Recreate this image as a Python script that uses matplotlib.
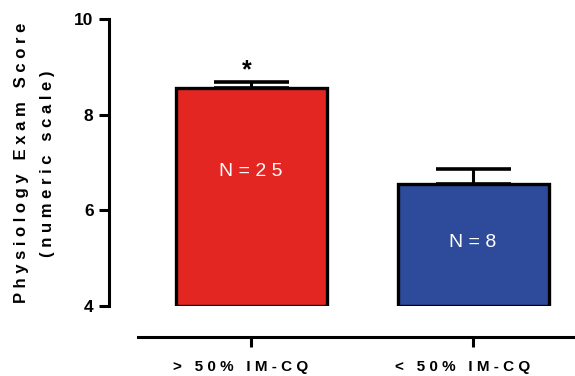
import numpy as np
import matplotlib.pyplot as plt
import matplotlib.transforms as mtransforms

plt.rcParams['font.family'] = ['Liberation Sans', 'DejaVu Sans']
plt.rcParams['font.weight'] = 'bold'

# data
groups = ['> 50% IM-CQ', '< 50% IM-CQ']
means = [8.55, 6.54]
sem = [0.14, 0.32]
n_labels = ['N=25', 'N=8']
n_pos = [6.81, 5.32]
bar_colors = ['#E42622', '#2D4B9A']


def spaced(s):
    # the original figure uses wide letter spacing
    return ' '.join(s)


fig = plt.figure(figsize=(5.75, 3.76), dpi=100)
ax = fig.add_axes([0.24, 0.186, 0.76, 0.764])

x = np.arange(len(groups))
ax.bar(x, np.array(means) - 4, bottom=4, width=0.68, color=bar_colors,
       edgecolor='black', linewidth=2.4, zorder=2)
ax.errorbar(x, means, yerr=[np.zeros(len(sem)), sem], fmt='none',
            ecolor='black', elinewidth=2.2, capsize=27, capthick=2.6, zorder=1)

for xi, lab, yp in zip(x, n_labels, n_pos):
    ax.text(xi, yp, spaced(lab), color='white', fontsize=14, fontweight='normal',
            ha='center', va='center', zorder=3)
ax.text(x[0] - 0.02, 8.93, '*', fontsize=18, fontweight='bold', ha='center', va='center')

ax.set_xlim(-0.509, 1.459)
ax.set_ylim(4, 10)
ax.set_yticks([4, 6, 8, 10])
ax.set_xticks(x)

ax.spines['top'].set_visible(False)
ax.spines['right'].set_visible(False)
ax.spines['left'].set_position(('outward', 21))
ax.spines['bottom'].set_position(('outward', 22))
ax.spines['left'].set_linewidth(2.2)
ax.spines['bottom'].set_linewidth(2.2)
ax.tick_params(width=2.2, length=7)
ax.tick_params(axis='x', pad=10, labelsize=11)
ax.tick_params(axis='y', labelsize=12.5, pad=4)
ax.set_xticklabels([spaced(g) for g in groups])
shift = mtransforms.ScaledTranslation(-10 / 100, 0, fig.dpi_scale_trans)
for lbl in ax.get_xticklabels():
    lbl.set_transform(lbl.get_transform() + shift)

ax.set_ylabel(spaced('Physiology Exam Score') + '\n' + spaced('(numeric scale)'),
              fontsize=12, fontweight='bold', linespacing=1.9)
ax.yaxis.label.set_va('center')
ax.yaxis.set_label_coords(-0.236, 0.497)

fig.savefig('out.png', dpi=100)
